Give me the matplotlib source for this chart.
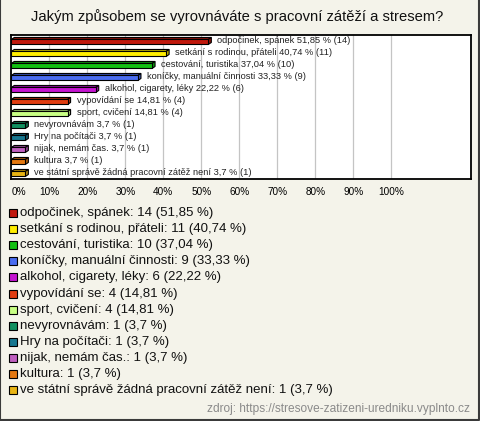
import matplotlib.pyplot as plt
from matplotlib.patches import Polygon
from matplotlib.lines import Line2D
import matplotlib.colors as mcolors

plt.rcParams['font.family'] = ['Liberation Sans', 'DejaVu Sans']

title = 'Jakým způsobem se vyrovnáváte s pracovní zátěží a stresem?'
categories = ['odpočinek, spánek', 'setkání s rodinou, přáteli', 'cestování, turistika',
              'koníčky, manuální činnosti', 'alkohol, cigarety, léky', 'vypovídání se',
              'sport, cvičení', 'nevyrovnávám', 'Hry na počítači', 'nijak, nemám čas.',
              'kultura', 've státní správě žádná pracovní zátěž není']
counts = [14, 11, 10, 9, 6, 4, 4, 1, 1, 1, 1, 1]
percents = [51.85, 40.74, 37.04, 33.33, 22.22, 14.81, 14.81, 3.7, 3.7, 3.7, 3.7, 3.7]
colors = ['#c0180c', '#ffee00', '#12c012', '#4a6cf0', '#c414d0', '#e03c10',
          '#c8ff84', '#109060', '#187890', '#c060c0', '#e47810', '#e8b414']
xticks = [0, 10, 20, 30, 40, 50, 60, 70, 80, 90, 100]
source = 'zdroj: https://stresove-zatizeni-uredniku.vyplnto.cz'


def fmt(v):
    return ('%g' % v).replace('.', ',')


W, H = 480, 421
fig = plt.figure(figsize=(W / 100, H / 100), dpi=100)
fig.patch.set_facecolor('#f4f3ea')

# main bar area
ax = fig.add_axes([11.3 / W, 1 - 179 / H, (470.7 - 11.3) / W, (179 - 35) / H])
ax.set_facecolor('white')
ax.set_xlim(0, 120.9)
ax.set_ylim(len(categories) - 0.5, -0.5)

for x in xticks[1:]:
    ax.axvline(x, color='#c4c4c4', lw=0.9, zorder=0)

px_x = 10 / 38.0   # one pixel in % units
px_y = 1 / 12.0    # one pixel in row units
h = 5 * px_y
dx, dy = 3 * px_x, 2 * px_y

for i, (v, c) in enumerate(zip(percents, colors)):
    y = i + 0.08
    dark = tuple(0.75 * k for k in mcolors.to_rgb(c))
    top = y - h / 2
    bot = y + h / 2
    ax.add_patch(Polygon([(0, top), (dx, top - dy), (v + dx, top - dy), (v, top)],
                         closed=True, facecolor=dark, edgecolor='black', lw=0.8, zorder=3))
    ax.add_patch(Polygon([(v, top), (v + dx, top - dy), (v + dx, bot - dy), (v, bot)],
                         closed=True, facecolor=dark, edgecolor='black', lw=0.8, zorder=3))
    ax.barh(y, v, height=h, color=c, edgecolor='black', lw=0.8, zorder=4)
    ax.text(v + 9 * px_x, i - 0.02, '%s %s %% (%d)' % (categories[i], fmt(v), counts[i]),
            fontsize=6.7, va='center', ha='left', color='#222222', zorder=5)

ax.set_yticks([])
ax.set_xticks(xticks)
ax.set_xticklabels(['%d%%' % t for t in xticks], fontsize=7.2)
ax.get_xticklabels()[0].set_horizontalalignment('left')
ax.tick_params(axis='x', length=0, pad=6)
for s in ax.spines.values():
    s.set_linewidth(1.3)
    s.set_color('black')

fig.text(237 / W, 1 - 17 / H, title, fontsize=10.6, ha='center', va='center', color='#111111')

# legend
for i, (cat, n, v, c) in enumerate(zip(categories, counts, percents, colors)):
    yc = 213 + i * 16.1
    fig.patches.append(plt.Rectangle((9 / W, 1 - (yc + 4) / H), 8 / W, 8 / H,
                                     transform=fig.transFigure, facecolor=c,
                                     edgecolor='black', lw=0.8))
    fig.text(20 / W, 1 - yc / H, '%s: %d (%s %%)' % (cat, n, fmt(v)),
             fontsize=9.5, ha='left', va='center', color='#111111')

fig.text(470 / W, 1 - 409 / H, source, fontsize=8.6, ha='right', va='center', color='#8a8a8a')

# outer frame
fig.add_artist(Line2D([0.001, 0.001, 0.997, 0.997], [1, 0.003, 0.003, 1],
                      transform=fig.transFigure, color='#3a3a3a', lw=1.5))

fig.savefig('out.png', dpi=100, facecolor=fig.get_facecolor())
